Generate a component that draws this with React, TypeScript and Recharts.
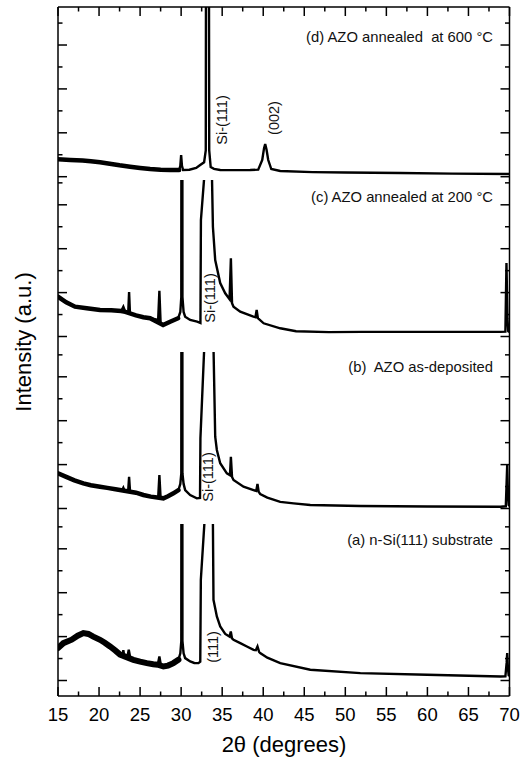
import { LineChart, Line, XAxis, YAxis } from 'recharts';

const FONT = '"Liberation Sans", Arial, Helvetica, sans-serif';

// 2θ (degrees) and intensity (counts) for each pattern, bottom to top
const thetaA = [15.0, 15.65, 16.67, 17.4, 18.09, 18.7, 19.3, 20.12, 20.7, 21.34, 22.0, 22.56, 22.85, 22.96, 23.07, 23.45, 23.62, 23.8, 24.18, 25.0, 25.82, 26.6, 27.15, 27.35, 27.55, 27.84, 28.4, 29.06, 29.67, 29.9, 30.02, 30.09, 30.16, 30.3, 30.49, 31.1, 31.6, 32.11, 32.33, 32.4, 32.84, 33.35, 33.87, 33.94, 34.35, 34.76, 35.37, 35.9, 36.05, 36.2, 36.38, 37.2, 38.01, 38.82, 39.1, 39.3, 39.5, 39.63, 40.5, 42.07, 45.73, 51.83, 59.96, 68.9, 69.5, 69.65, 69.72, 69.8, 69.9, 70.0];
const countsA = [740, 850, 930, 1020, 1080, 1060, 1000, 927, 860, 775, 680, 590, 570, 690, 560, 540, 699, 520, 470, 430, 396, 370, 360, 547, 330, 319, 340, 396, 472, 620, 900, 30000, 900, 620, 510, 433, 400, 396, 430, 2294, 3600, 30000, 3600, 1838, 1458, 1230, 1060, 1000, 1116, 960, 927, 852, 775, 699, 690, 775, 650, 624, 520, 396, 244, 169, 130, 91, 95, 400, 624, 300, 120, 110];
const spikesA = [22.96, 23.62, 27.35];

const thetaB = [15.0, 16.0, 17.0, 18.09, 19.0, 20.12, 21.0, 22.0, 22.85, 22.96, 23.07, 23.55, 23.66, 23.77, 24.5, 25.4, 26.3, 27.2, 27.35, 27.5, 27.84, 28.4, 29.06, 29.67, 29.9, 30.02, 30.09, 30.16, 30.3, 30.49, 31.1, 31.91, 32.3, 32.35, 32.8, 33.35, 33.95, 34.15, 34.35, 34.76, 35.57, 35.95, 36.06, 36.2, 36.38, 37.6, 38.82, 39.15, 39.3, 39.45, 39.63, 40.5, 42.07, 43.7, 45.73, 51.83, 60.0, 68.9, 69.55, 69.65, 69.72, 69.8, 69.9, 70.0];
const countsB = [800, 720, 640, 574, 530, 497, 470, 440, 425, 470, 420, 410, 724, 400, 360, 308, 270, 245, 763, 235, 232, 280, 346, 421, 560, 800, 30000, 800, 560, 421, 308, 232, 240, 1599, 3600, 30000, 3600, 1636, 1333, 1030, 802, 760, 1180, 720, 649, 497, 421, 400, 560, 380, 330, 250, 150, 118, 80, 57, 46, 41, 50, 600, 990, 400, 80, 60];
const spikesB = [22.96, 23.66, 27.35];

const thetaC = [15.0, 16.0, 17.07, 18.5, 20.12, 21.5, 22.7, 22.96, 23.2, 23.55, 23.66, 23.77, 24.5, 25.4, 26.22, 27.2, 27.35, 27.5, 27.8, 28.66, 29.63, 29.9, 30.02, 30.09, 30.16, 30.3, 30.49, 31.1, 31.95, 32.35, 32.41, 32.8, 33.3, 33.76, 33.87, 34.15, 34.76, 35.37, 35.9, 36.06, 36.2, 36.38, 37.2, 38.8, 39.05, 39.2, 39.35, 40.05, 42.07, 44.0, 48.0, 52.0, 60.0, 68.9, 69.5, 69.63, 69.75, 69.85, 70.0];
const countsC = [907, 780, 679, 642, 604, 600, 581, 679, 560, 530, 1014, 520, 480, 440, 415, 380, 1043, 300, 262, 337, 415, 560, 900, 30000, 900, 560, 451, 376, 337, 307, 2654, 3600, 30000, 3600, 2501, 1743, 1219, 984, 850, 1781, 760, 679, 565, 451, 440, 604, 420, 301, 187, 120, 100, 105, 105, 105, 110, 1674, 400, 120, 105];
const spikesC = [22.96, 23.66, 27.35];

const thetaD = [15.0, 16.5, 18.0, 19.0, 20.12, 21.5, 22.5, 23.78, 25.0, 26.22, 27.5, 28.66, 29.76, 29.9, 30.0, 30.1, 30.24, 31.0, 31.83, 32.32, 32.8, 33.0, 33.2, 33.42, 33.6, 34.0, 34.76, 36.0, 38.41, 39.39, 39.88, 40.1, 40.24, 40.4, 40.61, 40.98, 42.07, 46.0, 50.0, 56.7, 63.0, 70.0];
const countsD = [396, 380, 370, 350, 328, 290, 260, 228, 200, 175, 160, 153, 153, 250, 494, 250, 153, 160, 198, 266, 330, 600, 30000, 600, 220, 180, 153, 150, 153, 160, 380, 650, 745, 620, 380, 175, 130, 105, 95, 84, 70, 62];
const spikesD = [30.0];

const xTicks = [15, 17.5, 20, 22.5, 25, 27.5, 30, 32.5, 35, 37.5, 40, 42.5, 45, 47.5, 50, 52.5, 55, 57.5, 60, 62.5, 65, 67.5, 70];
const yTicks = [0, 500, 1000, 1500, 2000, 2500, 3000, 3500];

type Row = { theta: number; counts: number };

const rows = (theta: number[], counts: number[]): Row[] =>
  theta.map((t, i) => ({ theta: t, counts: counts[i] }));

// low-angle background without the sharp reflections; drawn heavier because it is noisy
const background = (data: Row[], spikes: number[], upTo: number) =>
  data.filter((r) => r.theta <= upTo && !spikes.some((s) => Math.abs(r.theta - s) < 0.2));

const frame = { stroke: '#000', strokeWidth: 1.5 };

function XTick({ x, y, payload, side, labelled }: any) {
  const v = payload.value;
  const major = v % 5 === 0;
  const len = major ? 9 : 4.5;
  const dir = side === 'top' ? 1 : -1;
  return (
    <g>
      <line x1={x} y1={y} x2={x} y2={y + dir * len} stroke="#000" strokeWidth={1.5} />
      {labelled && major && (
        <text x={x} y={y + 18} textAnchor="middle" dominantBaseline="central"
          fontFamily={FONT} fontSize={18.5} fill="#000">{v}</text>
      )}
    </g>
  );
}

function YTick({ x, y, payload, side }: any) {
  const major = payload.value % 1000 === 0;
  const len = major ? 9 : 4.5;
  const dir = side === 'left' ? 1 : -1;
  return <line x1={x} y1={y} x2={x + dir * len} y2={y} stroke="#000" strokeWidth={1.5} />;
}

type PanelProps = {
  data: Row[];
  noisy: Row[];
  noiseWidth: number;
  top: number;
  height: number;
  marginTop: number;
  marginBottom: number;
  domain: [number, number];
  axis: 'top' | 'bottom' | 'none';
};

// one pattern per panel; the panels stack into a single frame
function Panel({ data, noisy, noiseWidth, top, height, marginTop, marginBottom, domain, axis }: PanelProps) {
  return (
    <div style={{ position: 'absolute', left: 0, top, width: 521, height }}>
      <LineChart width={521} height={height} data={data}
        margin={{ top: marginTop, right: 10.5, bottom: marginBottom, left: 57 }}>
        <XAxis dataKey="theta" type="number" domain={[15, 70]} allowDataOverflow
          ticks={xTicks} interval={0} hide={axis === 'none'}
          orientation={axis === 'top' ? 'top' : 'bottom'} height={axis === 'none' ? 0 : 1}
          tickSize={0} tickMargin={0} tickLine={false} axisLine={frame}
          tick={(p: any) => <XTick {...p} side={axis} labelled={axis === 'bottom'} />} />
        <YAxis yAxisId="l" type="number" domain={domain} allowDataOverflow
          ticks={yTicks} interval={0} width={1} tickSize={0} tickMargin={0}
          tickLine={false} axisLine={frame}
          tick={(p: any) => <YTick {...p} side="left" />} />
        <YAxis yAxisId="r" orientation="right" type="number" domain={domain} allowDataOverflow
          ticks={yTicks} interval={0} width={1} tickSize={0} tickMargin={0}
          tickLine={false} axisLine={frame}
          tick={(p: any) => <YTick {...p} side="right" />} />
        <Line yAxisId="l" data={noisy} dataKey="counts" type="linear" stroke="#000"
          strokeWidth={noiseWidth} strokeLinecap="round" dot={false} isAnimationActive={false} />
        <Line yAxisId="l" dataKey="counts" type="linear" stroke="#000" strokeWidth={2.4}
          dot={false} isAnimationActive={false} />
      </LineChart>
    </div>
  );
}

const note = { fontFamily: FONT, fontSize: 14.8, fill: '#111', style: { whiteSpace: 'pre' as const } };
const peak = { fontFamily: FONT, fontSize: 14.5, fill: '#111' };

const dataA = rows(thetaA, countsA);
const dataB = rows(thetaB, countsB);
const dataC = rows(thetaC, countsC);
const dataD = rows(thetaD, countsD);

export default function App() {
  return (
    <div style={{ position: 'absolute', left: 0, top: 0, width: 521, height: 764, background: '#fff' }}>
      <Panel data={dataD} noisy={background(dataD, spikesD, 29.8)} noiseWidth={4.5}
        top={0} height={180} marginTop={6} marginBottom={0} domain={[-75, 3866]} axis="top" />
      <Panel data={dataC} noisy={background(dataC, spikesC, 29.7)} noiseWidth={4.5}
        top={180} height={172} marginTop={0} marginBottom={0} domain={[-353, 3565]} axis="none" />
      <Panel data={dataB} noisy={background(dataB, spikesB, 29.7)} noiseWidth={4.5}
        top={352} height={172} marginTop={0} marginBottom={0} domain={[-353, 3565]} axis="none" />
      <Panel data={dataA} noisy={background(dataA, spikesA, 29.7)} noiseWidth={6}
        top={524} height={240} marginTop={0} marginBottom={67} domain={[-353, 3565]} axis="bottom" />
      <svg width={521} height={764} style={{ position: 'absolute', left: 0, top: 0, pointerEvents: 'none' }}>
        <text x={493} y={37} textAnchor="end" dominantBaseline="central" {...note}>(d) AZO annealed  at 600 °C</text>
        <text x={493} y={197} textAnchor="end" dominantBaseline="central" {...note}>(c) AZO annealed at 200 °C</text>
        <text x={493} y={367} textAnchor="end" dominantBaseline="central" {...note}>(b)  AZO as-deposited</text>
        <text x={493} y={540} textAnchor="end" dominantBaseline="central" {...note}>(a) n-Si(111) substrate</text>
        <text transform="translate(222,120) rotate(-90)" textAnchor="middle" dominantBaseline="central" {...peak}>Si-(111)</text>
        <text transform="translate(274,118) rotate(-90)" textAnchor="middle" dominantBaseline="central" {...peak}>(002)</text>
        <text transform="translate(210,298) rotate(-90)" textAnchor="middle" dominantBaseline="central" {...peak}>Si-(111)</text>
        <text transform="translate(208,477) rotate(-90)" textAnchor="middle" dominantBaseline="central" {...peak}>Si-(111)</text>
        <text transform="translate(213,647) rotate(-90)" textAnchor="middle" dominantBaseline="central" {...peak}>(111)</text>
        <text transform="translate(23,342) rotate(-90)" textAnchor="middle" dominantBaseline="central"
          fontFamily={FONT} fontSize={22} fill="#000">Intensity (a.u.)</text>
        <text x={284} y={744} textAnchor="middle" dominantBaseline="central"
          fontFamily={FONT} fontSize={22} fill="#000">2θ (degrees)</text>
      </svg>
    </div>
  );
}
